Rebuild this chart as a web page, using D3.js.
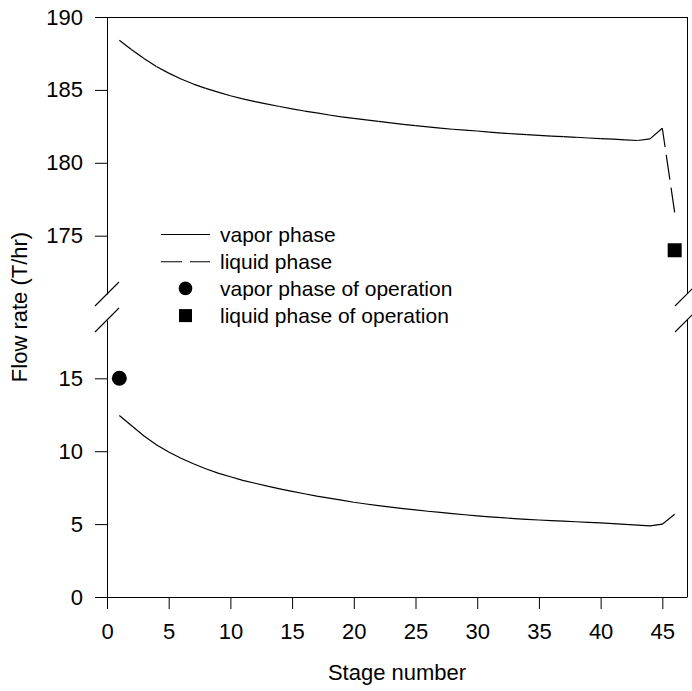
<!DOCTYPE html>
<html lang="en">
<head>
<meta charset="UTF-8">
<title>Flow rate by stage</title>
<script src="https://d3js.org/d3.v7.min.js"></script>
<style>
    body {
        margin: 0;
        padding: 0;
        background-color: #fff;
    }
    svg text {
        font-family: "Liberation Sans", Arial, sans-serif;
        fill: #000;
    }
</style>
</head>
<body>
<svg id="chart" width="692" height="691"></svg>
<script>
    // stage numbers
    var stages = [1, 2, 3, 4, 5, 6, 7, 8, 9, 10, 11, 12, 13, 14, 15, 16, 17, 18, 19, 20, 21, 22, 23,
        24, 25, 26, 27, 28, 29, 30, 31, 32, 33, 34, 35, 36, 37, 38, 39, 40, 41, 42, 43, 44, 45, 46];

    // vapor phase flow (T/hr), lower part of the axis
    var vaporFlow = [12.45, 11.75, 11.05, 10.45, 9.95, 9.52, 9.14, 8.8, 8.5, 8.25, 8.0, 7.8, 7.6, 7.42,
        7.25, 7.08, 6.92, 6.78, 6.64, 6.5, 6.38, 6.27, 6.16, 6.06, 5.97, 5.88, 5.8, 5.72, 5.64, 5.57,
        5.5, 5.44, 5.38, 5.33, 5.28, 5.24, 5.2, 5.16, 5.12, 5.08, 5.03, 4.98, 4.93, 4.88, 5.0, 5.68];

    // liquid phase flow (T/hr), upper part of the axis
    var liquidFlow = [188.4, 187.75, 187.15, 186.6, 186.15, 185.75, 185.4, 185.1, 184.85, 184.6,
        184.38, 184.2, 184.02, 183.86, 183.7, 183.55, 183.42, 183.28, 183.15, 183.04, 182.94, 182.84,
        182.74, 182.64, 182.55, 182.46, 182.38, 182.3, 182.24, 182.18, 182.11, 182.04, 181.98, 181.93,
        181.88, 181.83, 181.79, 181.75, 181.7, 181.66, 181.62, 181.57, 181.53, 181.64, 182.37, 176.6];

    // operating points
    var vaporOperation = [{ stage: 1, flow: 15 }];
    var liquidOperation = [{ stage: 46, flow: 174 }];

    var xTicks = [0, 5, 10, 15, 20, 25, 30, 35, 40, 45];
    var yTopTicks = [175, 180, 185, 190];
    var yBottomTicks = [0, 5, 10, 15];

    var legendLabels = ["vapor phase", "liquid phase", "vapor phase of operation", "liquid phase of operation"];

    var svg = d3.select("#chart");

    var plotLeft = 107, plotRight = 687, plotTop = 17, plotBottom = 597;
    var breakTop = 294, breakBottom = 320;

    var x = d3.scaleLinear().domain([0, 47]).range([plotLeft, plotRight]);
    var yTop = d3.scaleLinear().domain([171, 190]).range([breakTop, plotTop]);
    var yBottom = d3.scaleLinear().domain([0, 19]).range([plotBottom, breakBottom]);

    // axes
    var xAxis = svg.append("g")
        .attr("transform", "translate(0," + plotBottom + ")")
        .call(d3.axisBottom(x).tickValues(xTicks).tickSize(12).tickSizeOuter(0).tickPadding(10));

    var yAxisTop = svg.append("g")
        .attr("transform", "translate(" + plotLeft + ",0)")
        .call(d3.axisLeft(yTop).tickValues(yTopTicks).tickSize(12).tickSizeOuter(0).tickPadding(12));

    var yAxisBottom = svg.append("g")
        .attr("transform", "translate(" + plotLeft + ",0)")
        .call(d3.axisLeft(yBottom).tickValues(yBottomTicks).tickSize(12).tickSizeOuter(0).tickPadding(12));

    [xAxis, yAxisTop, yAxisBottom].forEach(function (g) {
        g.selectAll("text").style("font-size", "22px").attr("fill", "#000");
        g.selectAll("line").attr("stroke", "#000");
        g.select(".domain").attr("stroke", "#000");
    });
    xAxis.selectAll("text").attr("dy", "0.9em");

    // frame: top and right side (right side broken)
    svg.append("line")
        .attr("x1", plotLeft).attr("x2", plotRight)
        .attr("y1", plotTop + 0.5).attr("y2", plotTop + 0.5)
        .attr("stroke", "#000");
    svg.append("line")
        .attr("x1", plotRight + 0.5).attr("x2", plotRight + 0.5)
        .attr("y1", plotTop).attr("y2", breakTop)
        .attr("stroke", "#000");
    svg.append("line")
        .attr("x1", plotRight + 0.5).attr("x2", plotRight + 0.5)
        .attr("y1", breakBottom).attr("y2", plotBottom)
        .attr("stroke", "#000");

    // break marks
    [plotLeft, plotRight].forEach(function (ax) {
        [breakTop, breakBottom].forEach(function (by) {
            svg.append("line")
                .attr("x1", ax - 12).attr("y1", by + 12)
                .attr("x2", ax + 12).attr("y2", by - 12)
                .attr("stroke", "#000")
                .attr("stroke-width", 1.1);
        });
    });

    var vaporData = stages.map(function (s, i) { return { stage: s, flow: vaporFlow[i] }; });
    var liquidData = stages.map(function (s, i) { return { stage: s, flow: liquidFlow[i] }; });

    var vaporLine = d3.line()
        .x(function (d) { return x(d.stage); })
        .y(function (d) { return yBottom(d.flow); });
    var liquidLine = d3.line()
        .x(function (d) { return x(d.stage); })
        .y(function (d) { return yTop(d.flow); });

    svg.append("path")
        .datum(vaporData)
        .attr("d", vaporLine)
        .attr("fill", "none")
        .attr("stroke", "#000")
        .attr("stroke-width", 1.2);

    // dash pattern restarts on every segment, as in the original plot
    svg.selectAll(".liquid-seg")
        .data(d3.pairs(liquidData))
        .enter().append("path")
        .attr("class", "liquid-seg")
        .attr("d", liquidLine)
        .attr("fill", "none")
        .attr("stroke", "#000")
        .attr("stroke-width", 1.2)
        .attr("stroke-dasharray", "25,8")
        .attr("stroke-dashoffset", 6);

    svg.selectAll(".vop")
        .data(vaporOperation)
        .enter().append("circle")
        .attr("cx", function (d) { return x(d.stage); })
        .attr("cy", function (d) { return yBottom(d.flow); })
        .attr("r", 7.5)
        .attr("fill", "#000");

    svg.selectAll(".lop")
        .data(liquidOperation)
        .enter().append("rect")
        .attr("x", function (d) { return x(d.stage) - 7; })
        .attr("y", function (d) { return yTop(d.flow) - 7; })
        .attr("width", 14)
        .attr("height", 14)
        .attr("fill", "#000");

    // legend
    var legend = svg.append("g").attr("transform", "translate(161,234)");
    var rowH = 27.2;
    legendLabels.forEach(function (label, i) {
        var row = legend.append("g").attr("transform", "translate(0," + (i * rowH) + ")");
        if (i === 0) {
            row.append("line").attr("x1", 0).attr("x2", 49).attr("y1", 0.5).attr("y2", 0.5)
                .attr("stroke", "#000").attr("stroke-width", 1.1);
        } else if (i === 1) {
            row.append("line").attr("x1", 0).attr("x2", 49).attr("y1", 0.5).attr("y2", 0.5)
                .attr("stroke", "#000").attr("stroke-width", 1.1).attr("stroke-dasharray", "21,8");
        } else if (i === 2) {
            row.append("circle").attr("cx", 24.5).attr("cy", 0).attr("r", 6.8).attr("fill", "#000");
        } else {
            row.append("rect").attr("x", 18).attr("y", -6.5).attr("width", 13).attr("height", 13)
                .attr("fill", "#000");
        }
        row.append("text")
            .attr("x", 59)
            .attr("y", 0)
            .attr("dy", "0.36em")
            .style("font-size", "21px")
            .text(label);
    });

    // axis titles
    svg.append("text")
        .attr("x", (plotLeft + plotRight) / 2)
        .attr("y", 680)
        .attr("text-anchor", "middle")
        .style("font-size", "22px")
        .text("Stage number");

    svg.append("text")
        .attr("transform", "translate(27,307) rotate(-90)")
        .attr("text-anchor", "middle")
        .style("font-size", "22px")
        .text("Flow rate (T/hr)");
</script>
</body>
</html>
